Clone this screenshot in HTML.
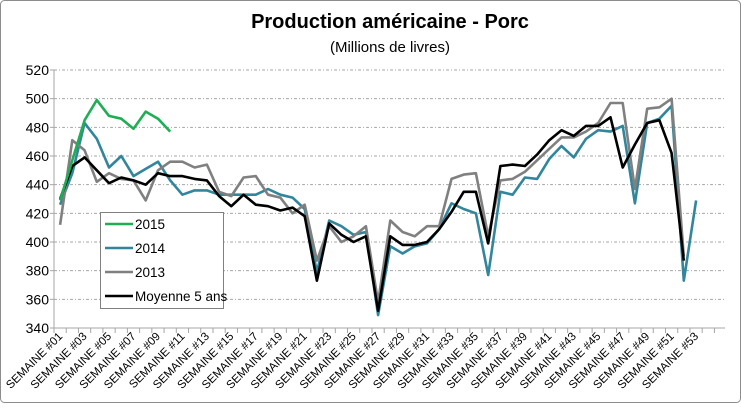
<!DOCTYPE html>
<html><head><meta charset="utf-8">
<style>
html,body{margin:0;padding:0;background:#fff;}
body{width:741px;height:403px;overflow:hidden;font-family:"Liberation Sans",Arial,sans-serif;}
</style></head>
<body>
<svg id="chart" width="741" height="403" viewBox="0 0 741 403" xmlns="http://www.w3.org/2000/svg">
<rect x="0.5" y="0.5" width="740" height="402" rx="4" fill="#fff" stroke="#8c8c8c"/>
<text x="390" y="28" text-anchor="middle" font-family="Liberation Sans, sans-serif" font-weight="bold" font-size="20" fill="#000">Production américaine - Porc</text>
<text x="390" y="52" text-anchor="middle" font-family="Liberation Sans, sans-serif" font-size="15" fill="#000">(Millions de livres)</text>
<g id="grid"></g>
<g id="axes"></g>
<g id="series"></g>
<g id="legend"></g>
</svg>
<script>
const yTicks = [340,360,380,400,420,440,460,480,500,520];
const weeks = Array.from({length:53},(_,i)=>'SEMAINE #'+String(i+1).padStart(2,'0'));
const s2015 = [429,457,485,499,488,486,479,491,486,477];
const s2014 = [426,448,483,472,452,460,446,451,456,443,433,436,436,433,433,433,433,437,433,431,423,379,415,411,405,407,349,397,392,397,399,409,427,423,420,377,435,433,445,444,458,467,459,472,478,477,481,427,483,486,495,373,429];
const s2013 = [412,471,464,442,448,444,443,429,450,456,456,452,454,435,432,445,446,433,431,420,426,387,411,400,404,411,358,415,407,404,411,411,444,447,448,404,443,444,449,457,465,473,473,477,483,497,497,437,493,494,500,390];
const sAvg = [430,453,459,450,441,445,443,440,448,446,446,444,443,432,425,433,426,425,422,424,418,373,413,405,400,404,352,404,398,398,400,409,421,435,435,399,453,454,453,461,471,478,474,481,481,487,452,468,483,485,462,387];
const seriesNames = ['2015','2014','2013','Moyenne 5 ans'];
const seriesColors = ['#1fae54','#31869c','#808080','#000000'];

const NS='http://www.w3.org/2000/svg';
const plotL=54, plotR=725, plotTop=70, plotBot=328, step=12.23;
const yMin=340, yMax=520;
function yPos(v){return plotBot-(v-yMin)/(yMax-yMin)*(plotBot-plotTop);}
function xPos(i){return plotL+step*(i+0.5);}
function mk(tag,attrs,parent){const e=document.createElementNS(NS,tag);for(const k in attrs)e.setAttribute(k,attrs[k]);parent.appendChild(e);return e;}

const grid=document.getElementById('grid');
const axes=document.getElementById('axes');
yTicks.forEach(v=>{
  const y=yPos(v);
  if(v>yMin){
    const l=mk('line',{x1:plotL,x2:plotR,y1:y,y2:y,stroke:'#a6a6a6','stroke-width':1,'stroke-dasharray':'3,2,1,2'},grid);
    
    
  }
  const t=mk('text',{x:plotL-5,y:y+5,'text-anchor':'end','font-size':14,fill:'#000'},axes);
  t.textContent=v;
  
  
  const tk=mk('line',{x1:plotL-4,x2:plotL,y1:y,y2:y,stroke:'#a6a6a6'},axes);
  
  
});
const ya=mk('line',{x1:plotL,x2:plotL,y1:plotTop,y2:plotBot,stroke:'#a6a6a6'},axes);


const xa=mk('line',{x1:plotL,x2:plotR,y1:plotBot,y2:plotBot,stroke:'#a6a6a6'},axes);


for(let k=0;plotL+step*k<=plotR+0.5;k++){
  const x=plotL+step*k;
  const tk=mk('line',{x1:x,x2:x,y1:plotBot,y2:plotBot+5,stroke:'#a6a6a6'},axes);
  
  
}
weeks.forEach((w,i)=>{
  if(i%2!==0)return;
  const x=xPos(i)+3, y=plotBot+9;
  const t=mk('text',{x:x,y:y,'text-anchor':'end','font-size':11.5,fill:'#000',transform:'rotate(-45 '+x+' '+y+')'},axes);
  t.textContent=w;
  
  
});

const sg=document.getElementById('series');
[s2015,s2014,s2013,sAvg].forEach((arr,si)=>{
  const pts=arr.map((v,i)=>xPos(i).toFixed(1)+','+yPos(v).toFixed(1)).join(' ');
  const p=mk('polyline',{points:pts,fill:'none',stroke:seriesColors[si],'stroke-width':2.6,'stroke-linejoin':'round'},sg);
  
  
});
// draw order: 2013 and avg on top like reference
sg.appendChild(sg.children[0]);

const lg=document.getElementById('legend');
const box=mk('rect',{x:100.5,y:212.5,width:123,height:96,fill:'#fff',stroke:'#808080'},lg);


seriesNames.forEach((n,i)=>{
  const y=224+i*24;
  const l=mk('line',{x1:105,x2:133,y1:y,y2:y,stroke:seriesColors[i],'stroke-width':2.6},lg);
  
  
  const t=mk('text',{x:135,y:y+5,'font-size':13.5,fill:'#000'},lg);
  t.textContent=n;
  
  
});
</script>
</body></html>
